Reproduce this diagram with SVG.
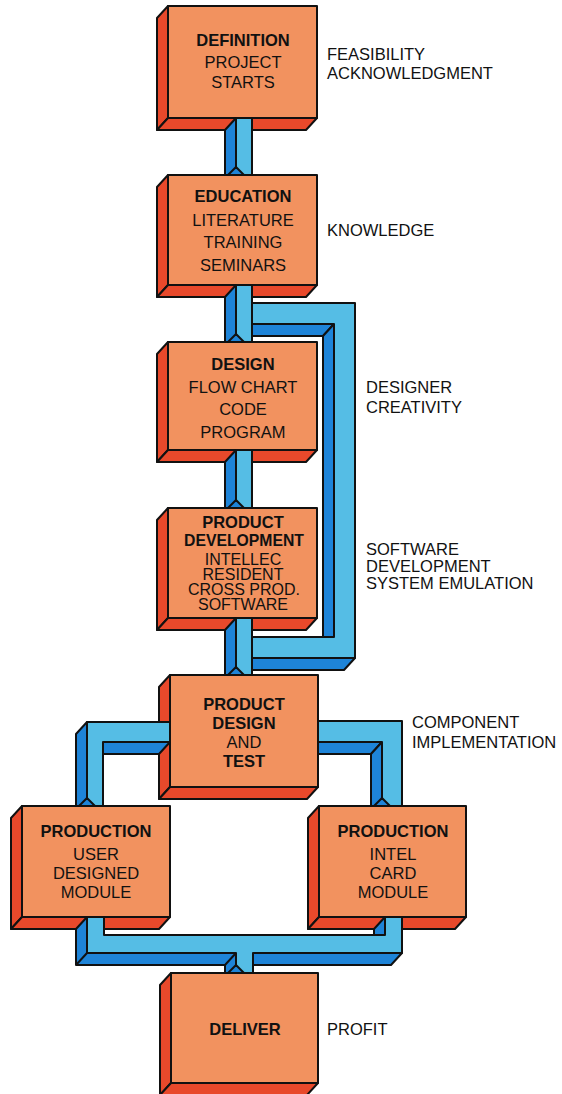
<svg xmlns="http://www.w3.org/2000/svg" width="562" height="1094" viewBox="0 0 562 1094">
<style>
.fr{fill:#f2925f;stroke:#111;stroke-width:2;stroke-linejoin:round}
.sd{fill:#e8492b;stroke:#111;stroke-width:2;stroke-linejoin:round}
.lt{fill:#55bde5;stroke:#111;stroke-width:2;stroke-linejoin:round}
.dk{fill:#1e84d8;stroke:#111;stroke-width:2;stroke-linejoin:round}
text{font-family:"Liberation Sans",Arial,Helvetica,sans-serif;font-size:16.5px;fill:#111}
.c{text-anchor:middle}
.b{font-weight:bold}
.s{font-size:16px}
</style>
<rect width="562" height="1094" fill="#fff"/>

<g id="n-definition">
<polygon class="sd" points="168,6 157,18 157,130 168,118"/>
<polygon class="sd" points="168,118 317,118 306,130 157,130"/>
<rect class="fr" x="168" y="6" width="149" height="112"/>
<text class="c b" x="243" y="46">DEFINITION</text>
<text class="c" x="243" y="68">PROJECT</text>
<text class="c" x="243" y="88">STARTS</text>
</g>

<g id="n-education">
<polygon class="sd" points="168,175 157,187 157,297 168,285"/>
<polygon class="sd" points="168,285 317,285 306,297 157,297"/>
<rect class="fr" x="168" y="175" width="149" height="110"/>
<text class="c b" x="243" y="202">EDUCATION</text>
<text class="c" x="243" y="226">LITERATURE</text>
<text class="c" x="243" y="248">TRAINING</text>
<text class="c" x="243" y="271">SEMINARS</text>
</g>

<g id="n-design">
<polygon class="sd" points="168,342 157,354 157,462 168,450"/>
<polygon class="sd" points="168,450 317,450 306,462 157,462"/>
<rect class="fr" x="168" y="342" width="149" height="108"/>
<text class="c b" x="243" y="370">DESIGN</text>
<text class="c" x="243" y="393">FLOW CHART</text>
<text class="c" x="243" y="415">CODE</text>
<text class="c" x="243" y="438">PROGRAM</text>
</g>

<g id="n-product-development">
<polygon class="sd" points="168,508 157,520 157,630 168,618"/>
<polygon class="sd" points="168,618 317,618 306,630 157,630"/>
<rect class="fr" x="168" y="508" width="149" height="110"/>
<text class="c b" x="243" y="528">PRODUCT</text>
<text class="c b" x="244" y="546" textLength="120" lengthAdjust="spacingAndGlyphs">DEVELOPMENT</text>
<text class="c s" x="243" y="565">INTELLEC</text>
<text class="c s" x="243" y="580">RESIDENT</text>
<text class="c s" x="244" y="595">CROSS PROD.</text>
<text class="c s" x="243" y="610">SOFTWARE</text>
</g>

<g id="n-product-design-test">
<polygon class="sd" points="170,675 159,687 159,799 170,787"/>
<polygon class="sd" points="170,787 318,787 307,799 159,799"/>
<rect class="fr" x="170" y="675" width="148" height="112"/>
<text class="c b" x="244" y="710">PRODUCT</text>
<text class="c b" x="244" y="729">DESIGN</text>
<text class="c" x="244" y="748">AND</text>
<text class="c b" x="244" y="767">TEST</text>
</g>

<g id="n-production-user">
<polygon class="sd" points="22,806 11,818 11,929 22,917"/>
<polygon class="sd" points="22,917 170,917 159,929 11,929"/>
<rect class="fr" x="22" y="806" width="148" height="111"/>
<text class="c b" x="96" y="837">PRODUCTION</text>
<text class="c" x="96" y="860">USER</text>
<text class="c" x="96" y="879">DESIGNED</text>
<text class="c" x="96" y="898">MODULE</text>
</g>

<g id="n-production-intel">
<polygon class="sd" points="319,806 308,818 308,929 319,917"/>
<polygon class="sd" points="319,917 466,917 455,929 308,929"/>
<rect class="fr" x="319" y="806" width="147" height="111"/>
<text class="c b" x="393" y="837">PRODUCTION</text>
<text class="c" x="393" y="860">INTEL</text>
<text class="c" x="393" y="879">CARD</text>
<text class="c" x="393" y="898">MODULE</text>
</g>

<g id="n-deliver">
<polygon class="sd" points="171,973 160,985 160,1095 171,1083"/>
<polygon class="sd" points="171,1083 318,1083 307,1095 160,1095"/>
<rect class="fr" x="171" y="973" width="147" height="110"/>
<text class="c b" x="245" y="1035">DELIVER</text>
</g>

<g id="connectors">
<!-- definition -> education -->
<polygon class="dk" points="236,118 225,130 225,175 236,175"/>
<rect class="lt" x="236" y="118" width="16" height="57"/>
<polygon class="dk" points="228,175 236,167 244,175"/>
<!-- education -> design, with loop -->
<polygon class="dk" points="236,285 225,297 225,342 236,342"/>
<rect class="lt" x="236" y="285" width="16" height="57"/>
<polygon class="dk" points="228,342 236,334 244,342"/>
<!-- loop -->
<polygon class="dk" points="252,324 334,324 323,336 252,336"/>
<polygon class="dk" points="334,324 323,336 323,637 334,637"/>
<polygon class="dk" points="252,658 355,658 344,670 252,670"/>
<path class="lt" d="M252,303 H355 V658 H252 V637 H334 V324 H252 Z"/>
<!-- design -> product development -->
<polygon class="dk" points="236,450 225,462 225,508 236,508"/>
<rect class="lt" x="236" y="450" width="16" height="58"/>
<polygon class="dk" points="228,508 236,500 244,508"/>
<!-- product development -> product design -->
<polygon class="dk" points="236,618 225,630 225,675 236,675"/>
<rect class="lt" x="236" y="618" width="16" height="57"/>
<polygon class="dk" points="228,675 236,667 244,675"/>
<!-- left branch -->
<polygon class="dk" points="87,722 76,734 76,806 87,806"/>
<polygon class="dk" points="103,742 170,742 159,754 103,754"/>
<path class="lt" d="M170,722 H87 V806 H103 V742 H170 Z"/>
<polygon class="dk" points="79,806 87,798 95,806"/>
<!-- right branch -->
<polygon class="dk" points="318,742 382,742 371,754 318,754"/>
<polygon class="dk" points="382,742 371,754 371,806 382,806"/>
<path class="lt" d="M318,721 H402 V806 H382 V742 H318 Z"/>
<polygon class="dk" points="374,806 382,798 390,806"/>
<!-- merge to deliver -->
<polygon class="dk" points="87,917 76,929 76,965 225,965 225,973 236,973 236,953 87,953"/>
<polyline points="87,953 76,965" fill="none" stroke="#111" stroke-width="2"/>
<polyline points="236,953 225,965" fill="none" stroke="#111" stroke-width="2"/>
<polygon class="dk" points="253,953 402,953 391,965 253,965"/>
<polygon class="dk" points="385,917 374,929 374,935 385,935"/>
<path class="lt" d="M87,917 H104 V935 H385 V917 H402 V953 H253 V973 H236 V953 H87 Z"/>
<polygon class="dk" points="228,973 236,965 244,973"/>
</g>

<g id="labels">
<text x="327" y="60">FEASIBILITY</text>
<text x="327" y="79">ACKNOWLEDGMENT</text>
<text x="327" y="236">KNOWLEDGE</text>
<text x="366" y="393">DESIGNER</text>
<text x="366" y="413">CREATIVITY</text>
<text x="366" y="555">SOFTWARE</text>
<text x="366" y="572">DEVELOPMENT</text>
<text x="366" y="589">SYSTEM EMULATION</text>
<text x="412" y="728">COMPONENT</text>
<text x="412" y="748">IMPLEMENTATION</text>
<text x="327" y="1035">PROFIT</text>
</g>
</svg>
